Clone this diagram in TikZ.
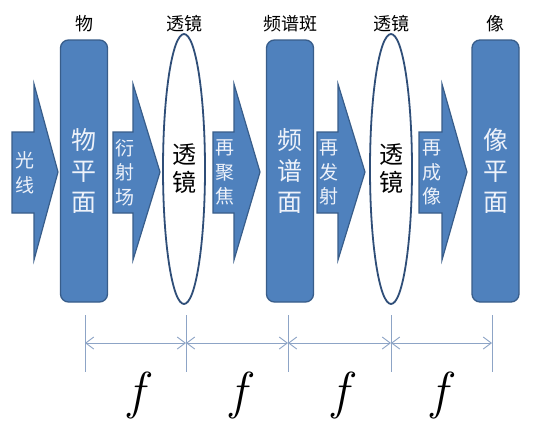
\documentclass[tikz,border=0pt]{standalone}
\usepackage{fontspec}
\setmainfont{Noto Sans CJK SC}
\newfontfamily\lmrfont{Latin Modern Roman}
\usetikzlibrary{shapes.geometric,arrows.meta}
\definecolor{pfill}{HTML}{4F81BD}
\definecolor{pline}{HTML}{385D8A}
\definecolor{lline}{HTML}{2F4E78}
\definecolor{dimc}{HTML}{8DA4C6}
\definecolor{ptext}{HTML}{EEF2FA}
\begin{document}
\begin{tikzpicture}[x=1pt,y=-1pt,
  plate/.style={draw=pline, fill=pfill, line width=1.3pt, rounded corners=8pt,
    minimum width=47pt, minimum height=262pt, inner sep=0pt, align=center,
    text=ptext, font=\fontsize{25}{31}\selectfont},
  lens/.style={ellipse, draw=lline, fill=white, line width=1.8pt,
    minimum width=42pt, minimum height=270pt, inner sep=0pt, align=center,
    font=\fontsize{24}{28}\selectfont},
  blockarrow/.style={fill=pfill, draw=pline, line width=1.2pt, line join=miter},
  arrowtext/.style={align=center, inner sep=0pt, text=ptext, font=\fontsize{19}{24.5}\selectfont},
  toplabel/.style={inner sep=0pt, font=\fontsize{18}{20}\selectfont},
  dimline/.style={draw=dimc, line width=0.9pt},
  dimarrow/.style={draw=dimc, line width=0.9pt, {Straight Barb[length=8pt,width=12pt]}-{Straight Barb[length=8pt,width=12pt]}},
  flabel/.style={inner sep=0pt, font=\lmrfont\itshape\fontsize{52}{52}\selectfont}]
\useasboundingbox (0,0) rectangle (533,432);
\fill[white] (0,0) rectangle (533,432);
% block arrows
\foreach \xs/\xh/\xt/\n/\t in {12/34/58/a1/{光\\线},113/133/160/a2/{衍\\射\\场},213/234/260/a3/{再\\聚\\焦},317/338/365/a4/{再\\发\\射},419/442/467/a5/{再\\成\\像}}{
  \draw[blockarrow] (\xs,132) -- (\xh,132) -- (\xh,84) -- (\xt,172) -- (\xh,260) -- (\xh,213) -- (\xs,213) -- cycle;
  \node[arrowtext] (\n) at ({(\xs+\xh)/2+1.5},172.5) {\t};
}
% plates and lenses
\node[plate] (p1) at (84,171) {物\\平\\面};
\node[lens] (l1) at (184,169) {透\\镜};
\node[plate] (p2) at (290,171) {频\\谱\\面};
\node[lens] (l2) at (391,169) {透\\镜};
\node[plate] (p3) at (495.5,171) {像\\平\\面};
% top labels
\node[toplabel] (t1) at (84,24) {物};
\node[toplabel] (t2) at (184,24) {透镜};
\node[toplabel] (t3) at (290,24) {频谱斑};
\node[toplabel] (t4) at (391,24) {透镜};
\node[toplabel] (t5) at (495.5,24) {像};
% dimension ticks
\foreach \i/\x in {1/85,2/186,3/288,4/391,5/492}{
  \coordinate (u\i) at (\x,315);
  \coordinate (d\i) at (\x,372);
  \coordinate (m\i) at (\x,343);
  \draw[dimline] (u\i) -- (d\i);
}
\draw[dimarrow] (m1) -- (m2);
\draw[dimarrow] (m2) -- (m3);
\draw[dimarrow] (m3) -- (m4);
\draw[dimarrow] (m4) -- (m5);
% f labels
\node[flabel] (f1) at (136,395) {f};
\node[flabel] (f2) at (238,395) {f};
\node[flabel] (f3) at (340,395) {f};
\node[flabel] (f4) at (439,395) {f};
\end{tikzpicture}
\end{document}
